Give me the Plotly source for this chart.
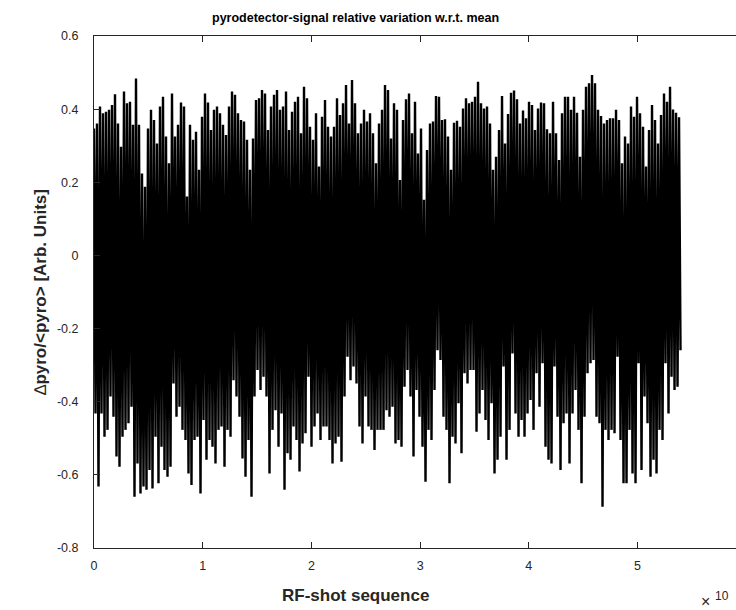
import numpy as np
import plotly.graph_objects as go

# RF-shot sequence axis (units of 1e10 shots); one envelope sample per step
SHOT_STEP = 0.0276

# Upper excursions of the relative pyro signal
upper = [
    0.347, 0.361, 0.407, 0.389, 0.393, 0.398, 0.411, 0.441, 0.361, 0.297,
    0.448, 0.416, 0.420, 0.357, 0.484, 0.357, 0.224, 0.188, 0.347, 0.398,
    0.370, 0.306, 0.407, 0.434, 0.325, 0.252, 0.443, 0.325, 0.357, 0.418,
    0.407, 0.161, 0.357, 0.316, 0.338, 0.234, 0.379, 0.443, 0.418, 0.343,
    0.398, 0.407, 0.389, 0.357, 0.329, 0.407, 0.448, 0.439, 0.389, 0.370,
    0.366, 0.316, 0.234, 0.320, 0.425, 0.430, 0.452, 0.443, 0.343, 0.407,
    0.439, 0.452, 0.398, 0.407, 0.448, 0.343, 0.393, 0.420, 0.434, 0.334,
    0.461, 0.430, 0.352, 0.316, 0.389, 0.243, 0.379, 0.425, 0.352, 0.325,
    0.352, 0.430, 0.384, 0.416, 0.466, 0.361, 0.480, 0.416, 0.334, 0.361,
    0.398, 0.366, 0.389, 0.334, 0.252, 0.361, 0.398, 0.466, 0.452, 0.320,
    0.416, 0.398, 0.206, 0.370, 0.427, 0.443, 0.334, 0.420, 0.279, 0.347,
    0.152, 0.288, 0.361, 0.366, 0.436, 0.434, 0.370, 0.372, 0.325, 0.234,
    0.363, 0.368, 0.352, 0.402, 0.430, 0.416, 0.420, 0.434, 0.475, 0.416,
    0.402, 0.407, 0.361, 0.234, 0.270, 0.343, 0.436, 0.306, 0.387, 0.445,
    0.451, 0.427, 0.361, 0.396, 0.375, 0.420, 0.411, 0.343, 0.402, 0.418,
    0.416, 0.345, 0.334, 0.420, 0.334, 0.261, 0.389, 0.434, 0.434, 0.398,
    0.434, 0.390, 0.270, 0.398, 0.461, 0.471, 0.493, 0.471, 0.398, 0.381,
    0.361, 0.370, 0.375, 0.375, 0.398, 0.370, 0.252, 0.325, 0.306, 0.407,
    0.379, 0.434, 0.389, 0.352, 0.243, 0.343, 0.411, 0.370, 0.306, 0.384,
    0.443, 0.420, 0.461, 0.399, 0.390, 0.378,
]

# Lower excursions of the relative pyro signal
lower = [
    -0.432, -0.632, -0.432, -0.496, -0.477, -0.386, -0.441, -0.550, -0.578, -0.496,
    -0.477, -0.459, -0.414, -0.660, -0.569, -0.651, -0.632, -0.641, -0.587, -0.637,
    -0.496, -0.623, -0.523, -0.587, -0.605, -0.578, -0.350, -0.441, -0.414, -0.477,
    -0.505, -0.596, -0.628, -0.505, -0.496, -0.651, -0.450, -0.559, -0.505, -0.523,
    -0.569, -0.477, -0.468, -0.578, -0.477, -0.496, -0.341, -0.386, -0.441, -0.555,
    -0.605, -0.505, -0.660, -0.386, -0.313, -0.368, -0.332, -0.386, -0.596, -0.477,
    -0.423, -0.523, -0.432, -0.641, -0.541, -0.559, -0.468, -0.505, -0.591, -0.514,
    -0.486, -0.332, -0.523, -0.468, -0.432, -0.505, -0.468, -0.468, -0.505, -0.569,
    -0.514, -0.496, -0.564, -0.386, -0.277, -0.341, -0.304, -0.350, -0.468, -0.514,
    -0.386, -0.468, -0.477, -0.532, -0.477, -0.477, -0.477, -0.423, -0.441, -0.414,
    -0.514, -0.505, -0.523, -0.359, -0.313, -0.386, -0.550, -0.368, -0.441, -0.523,
    -0.619, -0.477, -0.505, -0.368, -0.259, -0.286, -0.441, -0.477, -0.623, -0.496,
    -0.514, -0.404, -0.541, -0.322, -0.350, -0.313, -0.313, -0.482, -0.432, -0.368,
    -0.450, -0.505, -0.404, -0.596, -0.559, -0.496, -0.304, -0.559, -0.477, -0.268,
    -0.432, -0.496, -0.450, -0.496, -0.432, -0.395, -0.477, -0.322, -0.414, -0.295,
    -0.523, -0.559, -0.569, -0.304, -0.441, -0.587, -0.459, -0.432, -0.569, -0.432,
    -0.368, -0.477, -0.623, -0.441, -0.322, -0.295, -0.286, -0.441, -0.459, -0.687,
    -0.477, -0.505, -0.477, -0.486, -0.277, -0.505, -0.623, -0.623, -0.477, -0.596,
    -0.623, -0.295, -0.587, -0.386, -0.459, -0.605, -0.559, -0.596, -0.477, -0.505,
    -0.295, -0.432, -0.332, -0.368, -0.359, -0.259,
]

x_tickvals = [0, 1, 2, 3, 4, 5]
x_ticktext = ["0", "1", "2", "3", "4", "5"]
y_tickvals = [0.6, 0.4, 0.2, 0, -0.2, -0.4, -0.6, -0.8]
y_ticktext = ["0.6", "0.4", "0.2", "0", "-0.2", "-0.4", "-0.6", "-0.8"]

title_text = "pyrodetector-signal relative variation w.r.t. mean"
xlabel_text = "RF-shot sequence"
ylabel_text = "∆<b>pyro/&lt;pyro&gt; [Arb. Units]</b>"

# build the oscillating signal: alternate upper and lower excursions
n = len(upper)
idx = np.arange(n)
xs = np.empty(2 * n)
ys = np.empty(2 * n)
xs[0::2] = idx * SHOT_STEP
xs[1::2] = (idx + 0.5) * SHOT_STEP
ys[0::2] = upper
ys[1::2] = lower

W, H = 736, 610
L, R, T, B = 94, 0, 36, 62
PW, PH = W - L - R, H - T - B
PX_PER_UNIT = 108.7
xmax = PW / PX_PER_UNIT

fig = go.Figure()
fig.add_trace(go.Scatter(
    x=xs, y=ys, mode="lines",
    line=dict(color="black", width=2.4, simplify=False),
    hoverinfo="skip", showlegend=False,
))

axis_col = "#262626"
font_fam = "Liberation Sans, Arial, Helvetica, sans-serif"

fig.update_layout(
    width=W, height=H,
    margin=dict(l=L, r=R, t=T, b=B, pad=0, autoexpand=False),
    paper_bgcolor="white", plot_bgcolor="white",
    font=dict(family=font_fam, color=axis_col, size=12),
    showlegend=False,
)
fig.update_xaxes(
    range=[0, xmax], tickvals=x_tickvals, ticktext=x_ticktext,
    ticks="inside", ticklen=6, tickcolor=axis_col, tickwidth=1,
    showline=True, linecolor=axis_col, linewidth=1, mirror="ticks",
    showgrid=False, zeroline=False,
    tickfont=dict(size=12.5, color=axis_col, family=font_fam),
    ticklabelstandoff=6,
)
fig.update_yaxes(
    range=[-0.8, 0.6], tickvals=y_tickvals, ticktext=y_ticktext,
    ticks="inside", ticklen=6, tickcolor=axis_col, tickwidth=1,
    showline=True, linecolor=axis_col, linewidth=1, mirror=False,
    showgrid=False, zeroline=False,
    tickfont=dict(size=12.5, color=axis_col, family=font_fam),
    ticklabelstandoff=12,
)

# paper coordinates are relative to the plot area
def px_x(p):
    return (p - L) / PW

def px_y(p):
    return 1 - (p - T) / PH

annos = [
    dict(text="<b>" + title_text + "</b>", x=px_x(355.5), y=px_y(18),
         font=dict(size=12.5, color="black")),
    dict(text="<b>" + xlabel_text + "</b>", x=px_x(355), y=px_y(595),
         font=dict(size=17, color=axis_col)),
    dict(text=ylabel_text, x=px_x(40), y=px_y(292), textangle=-90,
         font=dict(size=17, color=axis_col)),
    dict(text="×", x=px_x(705.5), y=px_y(601),
         font=dict(size=16, color=axis_col)),
    dict(text="10", x=px_x(722), y=px_y(596),
         font=dict(size=12, color=axis_col)),
]
for a in annos:
    fig.add_annotation(xref="paper", yref="paper", showarrow=False,
                       xanchor="center", yanchor="middle",
                       font_family=font_fam, **a)

fig.write_html(
    "out.html",
    config={"displayModeBar": False},
    post_script="document.body.style.margin='0';document.body.style.overflow='hidden';",
)
